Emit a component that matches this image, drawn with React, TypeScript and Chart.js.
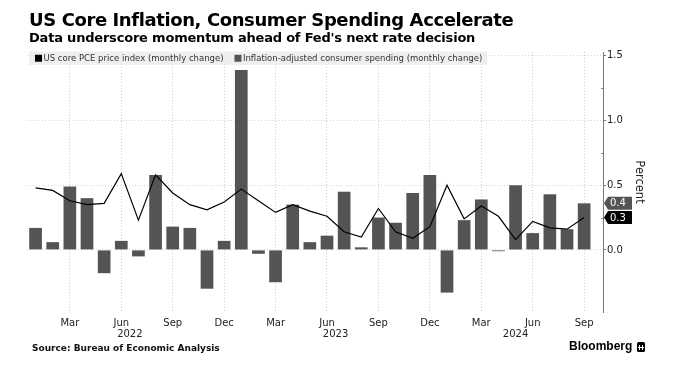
import React, { useEffect, useRef } from 'react';
import { Chart, registerables } from 'chart.js';

Chart.register(...registerables);

const MONTHS = [
  'Jan 2022', 'Feb 2022', 'Mar 2022', 'Apr 2022', 'May 2022', 'Jun 2022', 'Jul 2022', 'Aug 2022', 'Sep 2022', 'Oct 2022', 'Nov 2022', 'Dec 2022',
  'Jan 2023', 'Feb 2023', 'Mar 2023', 'Apr 2023', 'May 2023', 'Jun 2023', 'Jul 2023', 'Aug 2023', 'Sep 2023', 'Oct 2023', 'Nov 2023', 'Dec 2023',
  'Jan 2024', 'Feb 2024', 'Mar 2024', 'Apr 2024', 'May 2024', 'Jun 2024', 'Jul 2024', 'Aug 2024', 'Sep 2024',
];

const SPENDING = [
  0.17, 0.06, 0.49, 0.40, -0.18, 0.07, -0.05, 0.58, 0.18, 0.17, -0.30, 0.07,
  1.39, -0.03, -0.25, 0.35, 0.06, 0.11, 0.45, 0.02, 0.25, 0.21, 0.44, 0.58,
  -0.33, 0.23, 0.39, -0.01, 0.50, 0.13, 0.43, 0.16, 0.36,
];

const PCE = [
  0.48, 0.46, 0.38, 0.35, 0.36, 0.59, 0.23, 0.58, 0.44, 0.35, 0.31, 0.37,
  0.47, 0.38, 0.29, 0.35, 0.30, 0.26, 0.14, 0.10, 0.32, 0.14, 0.09, 0.18,
  0.50, 0.24, 0.34, 0.26, 0.08, 0.22, 0.17, 0.16, 0.25,
];

const TICK_MONTHS = ['Mar', 'Jun', 'Sep', 'Dec'];
const YEARS = ['2022', '2023', '2024'];
const Y_TICKS = [0, 0.5, 1.0, 1.5];
const Y_MINOR = [0.25, 0.75, 1.25];
const LEGEND = ['US core PCE price index (monthly change)', 'Inflation-adjusted consumer spending (monthly change)'];

const TITLE = 'US Core Inflation, Consumer Spending Accelerate';
const SUBTITLE = "Data underscore momentum ahead of Fed's next rate decision";
const SOURCE = 'Source: Bureau of Economic Analysis';

const FONT = "'DejaVu Sans', Verdana, sans-serif";
const BAR_COLOR = '#545454';
const LINE_COLOR = '#000000';

const extrasPlugin = {
  id: 'extras',
  beforeDatasetsDraw(chart: any) {
    const ctx = chart.ctx;
    ctx.save();
    ctx.font = `8.5px ${FONT}`;
    const x0 = 29;
    const y0 = 51.5;
    const h = 13.5;
    const w1 = ctx.measureText(LEGEND[0]).width;
    const w2 = ctx.measureText(LEGEND[1]).width;
    const m1 = x0 + 6;
    const t1 = m1 + 8.5;
    const m2 = t1 + w1 + 11;
    const t2 = m2 + 8.5;
    const right = t2 + w2 + 5;
    ctx.fillStyle = 'rgba(236,236,236,0.82)';
    ctx.fillRect(x0, y0, right - x0, h);
    const cy = y0 + h / 2;
    ctx.fillStyle = LINE_COLOR;
    ctx.fillRect(m1, cy - 3.5, 7, 7);
    ctx.fillStyle = BAR_COLOR;
    ctx.fillRect(m2, cy - 3.5, 7, 7);
    ctx.fillStyle = '#333';
    ctx.textBaseline = 'middle';
    ctx.textAlign = 'left';
    ctx.fillText(LEGEND[0], t1, cy + 0.5);
    ctx.fillText(LEGEND[1], t2, cy + 0.5);
    ctx.restore();
  },
  afterDraw(chart: any) {
    const ctx = chart.ctx;
    const xs = chart.scales.x;
    const ys = chart.scales.y;
    const area = chart.chartArea;
    ctx.save();
    // year labels centred on the months of each year
    ctx.font = `10px ${FONT}`;
    ctx.fillStyle = '#222';
    ctx.textAlign = 'center';
    ctx.textBaseline = 'middle';
    YEARS.forEach((yr) => {
      const idx = MONTHS.map((m, i) => (m.endsWith(yr) ? i : -1)).filter((i) => i >= 0);
      if (!idx.length) return;
      const c = (idx[0] + idx[idx.length - 1]) / 2;
      ctx.fillText(yr, xs.getPixelForValue(c), 334);
    });
    // minor ticks
    ctx.strokeStyle = '#888';
    ctx.lineWidth = 1;
    Y_MINOR.forEach((v) => {
      const y = Math.round(ys.getPixelForValue(v)) + 0.5;
      ctx.beginPath();
      ctx.moveTo(area.right - 2, y);
      ctx.lineTo(area.right, y);
      ctx.stroke();
    });
    // axis title
    ctx.save();
    ctx.translate(639, (area.top + area.bottom) / 2);
    ctx.rotate(Math.PI / 2);
    ctx.font = `11.5px ${FONT}`;
    ctx.fillStyle = '#222';
    ctx.textAlign = 'center';
    ctx.textBaseline = 'middle';
    ctx.fillText('Percent', 0, 0);
    ctx.restore();
    // end value tags
    const tag = (v: number, color: string) => {
      const y = ys.getPixelForValue(v);
      const x = area.right + 1;
      const hh = 6.5;
      const w = 28;
      ctx.fillStyle = color;
      ctx.beginPath();
      ctx.moveTo(x, y);
      ctx.lineTo(x + 4, y - hh);
      ctx.lineTo(x + w, y - hh);
      ctx.lineTo(x + w, y + hh);
      ctx.lineTo(x + 4, y + hh);
      ctx.closePath();
      ctx.fill();
      ctx.fillStyle = '#fff';
      ctx.font = `10px ${FONT}`;
      ctx.textAlign = 'left';
      ctx.textBaseline = 'middle';
      ctx.fillText(v.toFixed(1), x + 6, y + 0.5);
    };
    tag(SPENDING[SPENDING.length - 1], BAR_COLOR);
    tag(PCE[PCE.length - 1], LINE_COLOR);
    ctx.restore();
  },
};

function ChartCanvas() {
  const ref = useRef<HTMLCanvasElement | null>(null);
  useEffect(() => {
    if (!ref.current) return;
    const chart = new Chart(ref.current, {
      type: 'bar',
      data: {
        datasets: [
          {
            type: 'line',
            label: LEGEND[0],
            data: PCE.map((v, i) => ({ x: i, y: v })),
            borderColor: LINE_COLOR,
            borderWidth: 1.2,
            pointRadius: 0,
            tension: 0,
            order: 0,
          } as any,
          {
            type: 'bar',
            label: LEGEND[1],
            data: SPENDING.map((v, i) => ({ x: i, y: v })),
            backgroundColor: BAR_COLOR,
            barPercentage: 0.74,
            categoryPercentage: 1,
            order: 1,
          } as any,
        ],
      },
      options: {
        responsive: false,
        animation: false,
        devicePixelRatio: 1,
        layout: { padding: { left: 27, right: 36, top: 52, bottom: 29 } },
        plugins: { legend: { display: false }, tooltip: { enabled: false } },
        scales: {
          x: {
            type: 'linear',
            min: -0.5,
            max: 33.1,
            offset: false,
            afterBuildTicks: (s: any) => {
              s.ticks = MONTHS.map((m, i) => ({ value: i, m }))
                .filter((t) => TICK_MONTHS.includes(t.m.slice(0, 3)))
                .map((t) => ({ value: t.value }));
            },
            afterFit: (s: any) => {
              s.height = 30;
            },
            grid: { offset: false, color: '#cfcfcf', drawTicks: false, lineWidth: 1 },
            border: { display: false, dash: [1, 2] },
            ticks: {
              autoSkip: false,
              maxRotation: 0,
              padding: 5,
              color: '#222',
              font: { family: FONT, size: 10 },
              callback: (v: any) => (MONTHS[v] ? MONTHS[v].slice(0, 3) : ''),
            },
          },
          y: {
            type: 'linear',
            position: 'right',
            min: -0.48,
            max: 1.53,
            afterBuildTicks: (s: any) => {
              s.ticks = Y_TICKS.map((v) => ({ value: v }));
            },
            afterFit: (s: any) => {
              s.width = 40;
            },
            grid: { color: '#d6d6d6', drawTicks: true, tickLength: 3, tickColor: '#777', lineWidth: 1 },
            border: { display: true, color: '#777', width: 1, dash: [1, 2] },
            ticks: {
              padding: 1,
              color: '#222',
              font: { family: FONT, size: 10 },
              callback: (v: any) => Number(v).toFixed(1),
            },
          },
        },
      } as any,
      plugins: [extrasPlugin],
    });
    return () => chart.destroy();
  }, []);
  return <canvas ref={ref} width={679} height={371} style={{ position: 'absolute', left: 0, top: 0, width: 679, height: 371 }} />;
}

export default function App() {
  return (
    <div style={{ position: 'absolute', left: 0, top: 0, width: 679, height: 371, background: '#fff', overflow: 'hidden', fontFamily: FONT }}>
      <ChartCanvas />
      <div style={{ position: 'absolute', left: 29, top: 11, fontSize: 18, lineHeight: '18px', letterSpacing: -0.4, fontWeight: 'bold', color: '#000', whiteSpace: 'nowrap' }}>{TITLE}</div>
      <div style={{ position: 'absolute', left: 29, top: 30.5, fontSize: 13, lineHeight: '13px', letterSpacing: -0.2, fontWeight: 'bold', color: '#000', whiteSpace: 'nowrap' }}>{SUBTITLE}</div>
      <div style={{ position: 'absolute', left: 32, top: 343.5, fontSize: 9, lineHeight: '9px', fontWeight: 'bold', color: '#111', whiteSpace: 'nowrap' }}>{SOURCE}</div>
      <div style={{ position: 'absolute', left: 569, top: 340, fontSize: 12, lineHeight: '13px', fontWeight: 'bold', color: '#000', fontFamily: "'Liberation Sans', Arial, sans-serif", whiteSpace: 'nowrap' }}>Bloomberg</div>
      <div style={{ position: 'absolute', left: 637, top: 342, width: 8, height: 10, background: '#000', borderRadius: 1.5 }}>
        <div style={{ position: 'absolute', left: 2, top: 3, width: 1, height: 5, background: '#fff' }} />
        <div style={{ position: 'absolute', left: 5, top: 3, width: 1, height: 5, background: '#fff' }} />
        <div style={{ position: 'absolute', left: 1, top: 5, width: 6, height: 1, background: '#fff' }} />
      </div>
    </div>
  );
}
